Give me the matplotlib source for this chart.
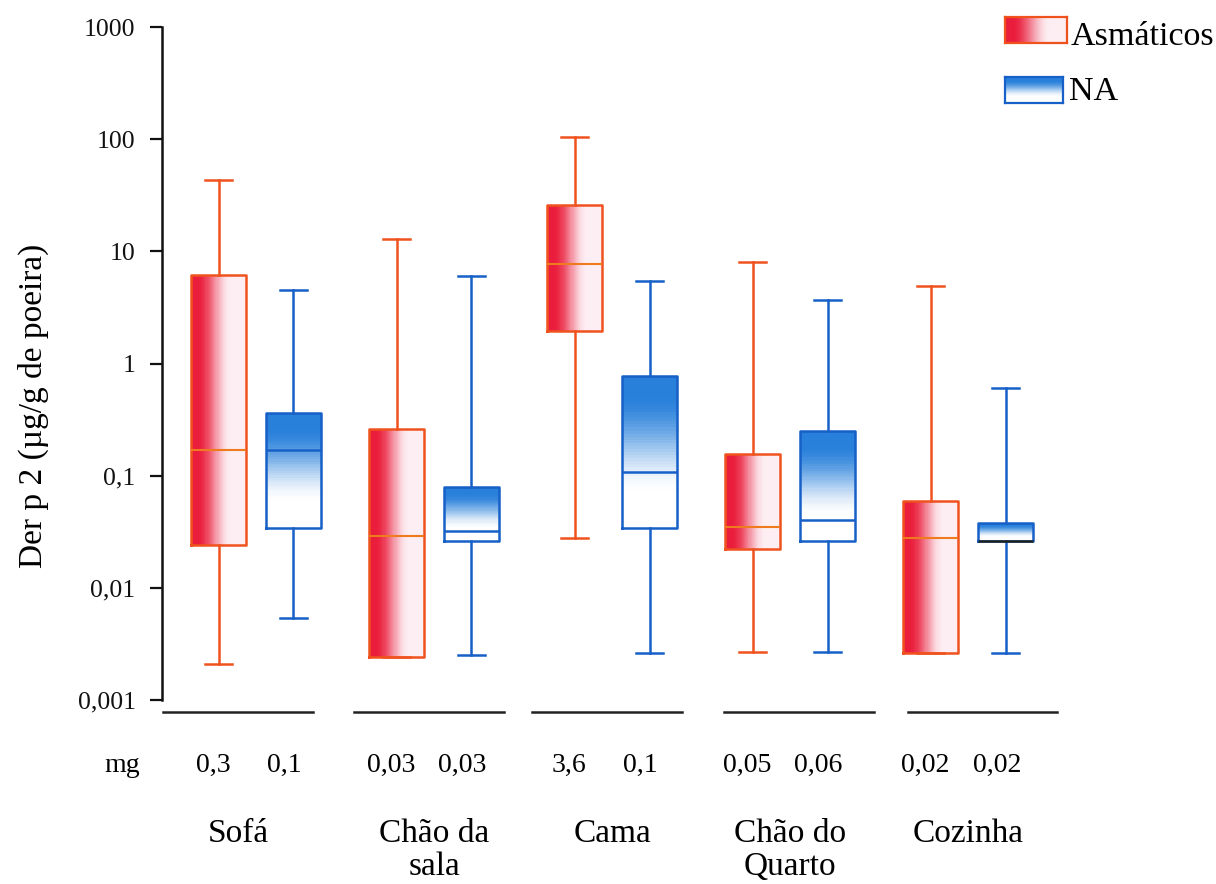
import matplotlib.pyplot as plt
import numpy as np
from matplotlib.patches import Rectangle
import matplotlib.transforms as mtransforms

plt.rcParams['font.family'] = ['Liberation Serif', 'DejaVu Serif']

locais = ['Sofá', 'Chão da\nsala', 'Cama', 'Chão do\nQuarto', 'Cozinha']

# Der p 2 (ug/g de poeira): minimo, Q1, mediana, Q3, maximo
asm_min = [0.0021, 0.0024, 0.028, 0.0027, 0.0026]
asm_q1 = [0.024, 0.0024, 1.95, 0.022, 0.0026]
asm_med = [0.17, 0.029, 7.7, 0.035, 0.028]
asm_q3 = [6.2, 0.26, 26, 0.155, 0.060]
asm_max = [43, 13, 105, 8.1, 4.9]

na_min = [0.0054, 0.0025, 0.0026, 0.0027, 0.0026]
na_q1 = [0.034, 0.026, 0.034, 0.026, 0.026]
na_med = [0.17, 0.032, 0.107, 0.040, 0.026]
na_q3 = [0.36, 0.080, 0.78, 0.25, 0.038]
na_max = [4.5, 6.0, 5.4, 3.7, 0.60]

# medianas em mg
mg_asm = ['0,3', '0,03', '3,6', '0,05', '0,02']
mg_na = ['0,1', '0,03', '0,1', '0,06', '0,02']

yticks = [0.001, 0.01, 0.1, 1, 10, 100, 1000]
ytick_labels = ['0,001', '0,01', '0,1', '1', '10', '100', '1000']

RED = np.array([234, 30, 60]) / 255
RED_EDGE = '#f0521e'
BLUE = np.array([40, 128, 218]) / 255
BLUE_EDGE = '#1660c8'
WHITE = np.array([1.0, 1.0, 1.0])
PALE_RED = np.array([252, 238, 242]) / 255

off = 0.21
width = 0.31
x = np.arange(len(locais))
pos_asm = x - off
pos_na = x + off


def smooth(t, a, b):
    s = np.clip((t - a) / (b - a), 0, 1)
    return s * s * (3 - 2 * s)


def red_color(f):
    t = smooth(f, 0.12, 0.72)
    return RED * (1 - t) + PALE_RED * t


def blue_color(g):
    t = smooth(g, 0.12, 0.78)
    return BLUE * (1 - t) + WHITE * t


def stats(mn, q1, med, q3, mx):
    return [dict(whislo=a, q1=b, med=c, q3=d, whishi=e)
            for a, b, c, d, e in zip(mn, q1, med, q3, mx)]


fig = plt.figure(figsize=(12.16, 8.84), dpi=100)
ax = fig.add_axes([162 / 1216, 184 / 884, 938 / 1216, 673 / 884])
ax.set_yscale('log')
ax.set_ylim(0.001, 1000)
ax.set_xlim(-0.528, 4.74)

# preenchimento em degrade: horizontal (asmaticos), vertical (NA)
n = 50
for p, lo, hi in zip(pos_asm, asm_q1, asm_q3):
    x0 = p - width / 2
    for i in range(n):
        f = (i + 0.5) / n
        ax.add_patch(Rectangle((x0 + i * width / n, lo), width / n * 1.05, hi - lo,
                               facecolor=red_color(f), edgecolor='none', zorder=1))
for p, lo, hi in zip(pos_na, na_q1, na_q3):
    edges = np.logspace(np.log10(hi), np.log10(lo), n + 1)
    for i in range(n):
        g = (i + 0.5) / n
        ax.add_patch(Rectangle((p - width / 2, edges[i + 1]), width, edges[i] - edges[i + 1],
                               facecolor=blue_color(g), edgecolor='none', zorder=1))

lw = 1.8
ax.bxp(stats(asm_min, asm_q1, asm_med, asm_q3, asm_max), positions=pos_asm,
       widths=width, capwidths=0.15, showfliers=False, manage_ticks=False,
       boxprops=dict(color=RED_EDGE, linewidth=lw),
       whiskerprops=dict(color=RED_EDGE, linewidth=lw),
       capprops=dict(color=RED_EDGE, linewidth=lw),
       medianprops=dict(color='#f07a1e', linewidth=1.5))
bp_na = ax.bxp(stats(na_min, na_q1, na_med, na_q3, na_max), positions=pos_na,
               widths=width, capwidths=0.15, showfliers=False, manage_ticks=False,
               boxprops=dict(color=BLUE_EDGE, linewidth=lw),
               whiskerprops=dict(color=BLUE_EDGE, linewidth=lw),
               capprops=dict(color=BLUE_EDGE, linewidth=lw),
               medianprops=dict(color=BLUE_EDGE, linewidth=lw))
bp_na['medians'][-1].set_color('#202020')

for s in ['top', 'right', 'bottom']:
    ax.spines[s].set_visible(False)
ax.spines['left'].set_linewidth(1.8)
ax.spines['left'].set_color('#111111')
ax.set_yticks(yticks)
ax.set_yticklabels(ytick_labels, fontsize=18.5)
ax.yaxis.set_minor_locator(plt.NullLocator())
ax.tick_params(axis='y', length=9, width=1.6, pad=10, colors='#111111')
ax.set_xticks([])

trans = mtransforms.blended_transform_factory(ax.transData, ax.transAxes)
linha_off = [-0.1, -0.03, -0.03, 0.05, 0.08]
for xi, d in zip(x, linha_off):
    ax.plot([xi + d - 0.42, xi + d + 0.42], [-0.018, -0.018], color='#222222', lw=1.8,
            transform=trans, clip_on=False)

ax.text(-0.75, -0.097, 'mg', transform=trans, fontsize=20, ha='center', va='center')
for p, s in zip(pos_asm, mg_asm):
    ax.text(p - 0.03, -0.097, s, transform=trans, fontsize=20, ha='center', va='center')
for p, s in zip(pos_na, mg_na):
    ax.text(p - 0.05, -0.097, s, transform=trans, fontsize=20, ha='center', va='center')
rot_off = [-0.1, 0, 0, 0, 0]
for xi, d, s in zip(x, rot_off, locais):
    ax.text(xi + d, -0.176, s, transform=trans, fontsize=24, ha='center', va='top',
            linespacing=1.12)

fig.text(33 / 1216, 1 - 406 / 884, 'Der p 2 (µg/g de poeira)', rotation=90,
         fontsize=24, ha='center', va='center')

# legenda com os mesmos degrades
lax1 = fig.add_axes([1005 / 1216, 1 - 43 / 884, 62 / 1216, 26 / 884])
grad_r = np.array([red_color(f) for f in np.linspace(0, 1, 100)])[None, :, :]
lax1.imshow(grad_r, aspect='auto', extent=(0, 1, 0, 1))
lax2 = fig.add_axes([1005 / 1216, 1 - 103 / 884, 58 / 1216, 26 / 884])
grad_b = np.array([blue_color(g) for g in np.linspace(0, 1, 100)])[:, None, :]
lax2.imshow(grad_b, aspect='auto', extent=(0, 1, 0, 1))
for a, c in [(lax1, RED_EDGE), (lax2, BLUE_EDGE)]:
    a.set_xticks([])
    a.set_yticks([])
    for sp in a.spines.values():
        sp.set_color(c)
        sp.set_linewidth(1.6)
fig.text(1071 / 1216, 1 - 37 / 884, 'Asmáticos', fontsize=24.5, va='center', ha='left')
fig.text(1069 / 1216, 1 - 92 / 884, 'NA', fontsize=24.5, va='center', ha='left')

fig.savefig('out.png', dpi=100, facecolor='white')
